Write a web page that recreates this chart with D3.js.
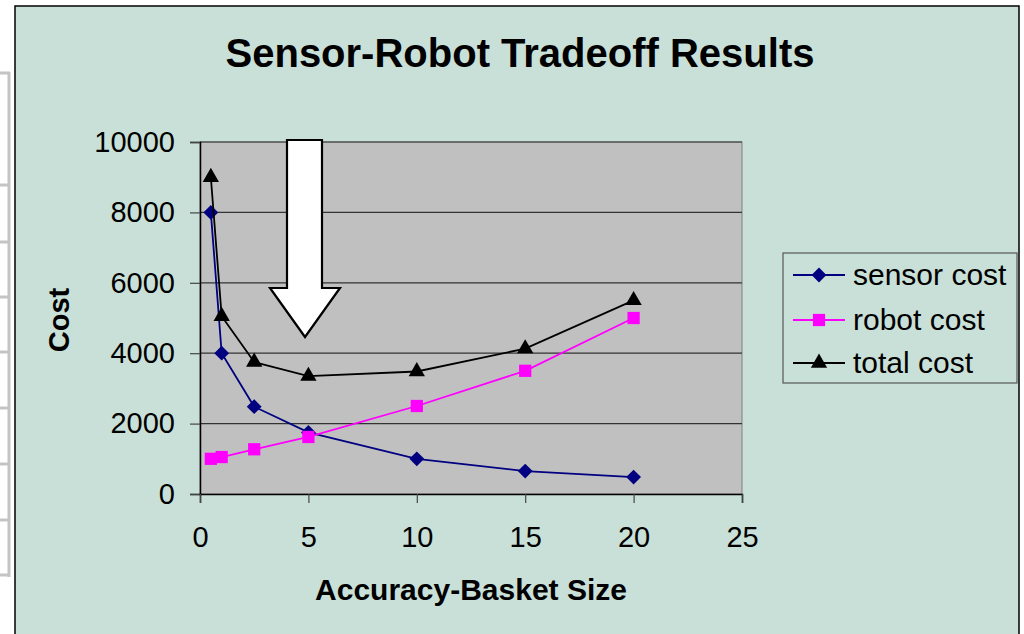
<!DOCTYPE html>
<html lang="en">
<head>
<meta charset="UTF-8">
<script src="https://cdn.jsdelivr.net/npm/d3@7/dist/d3.min.js"></script>
<title>Sensor-Robot Tradeoff Results</title>
<style>
  body { margin: 0; background: #fff; }
  text { font-family: "Liberation Sans", Arial, sans-serif; }
</style>
</head>
<body>
<svg width="1024" height="634"></svg>
<script>
  // data
  const basketSize = [0.5, 1, 2.5, 5, 10, 15, 20];
  const sensorCost = [8000, 4000, 2480, 1750, 1000, 650, 480];
  const robotCost  = [1000, 1050, 1270, 1620, 2500, 3500, 5000];
  const totalCost  = [9000, 5050, 3750, 3350, 3480, 4130, 5500];
  const seriesNames = ['sensor cost', 'robot cost', 'total cost'];
  const xTicks = [0, 5, 10, 15, 20, 25];
  const yTicks = [0, 2000, 4000, 6000, 8000, 10000];

  const svg = d3.select('svg');

  // bits of the spreadsheet table peeking out on the left
  const tableRows = [73, 185, 242, 297, 352, 408, 464, 520, 575];
  svg.append('line').attr('x1', 9).attr('x2', 9).attr('y1', 72).attr('y2', 577)
    .attr('stroke', '#c4c4c4').attr('stroke-width', 3);
  svg.selectAll('line.row').data(tableRows).join('line').attr('class', 'row')
    .attr('x1', 0).attr('x2', 10).attr('y1', d => d).attr('y2', d => d)
    .attr('stroke', '#c4c4c4').attr('stroke-width', 3);

  // chart area
  svg.append('rect').attr('x', 15).attr('y', 6).attr('width', 1004).attr('height', 640)
    .attr('fill', '#c9e0d8').attr('stroke', '#000').attr('stroke-width', 1.5);

  const pLeft = 200, pRight = 742, pTop = 142, pBottom = 494;
  const x = d3.scaleLinear().domain([0, 25]).range([pLeft, pRight]);
  const y = d3.scaleLinear().domain([0, 10000]).range([pBottom, pTop]);

  svg.append('rect').attr('x', pLeft).attr('y', pTop)
    .attr('width', pRight - pLeft).attr('height', pBottom - pTop)
    .attr('fill', '#c0c0c0').attr('stroke', '#808080').attr('stroke-width', 1);

  // gridlines
  svg.selectAll('line.grid').data(yTicks.slice(1)).join('line').attr('class', 'grid')
    .attr('x1', pLeft).attr('x2', pRight).attr('y1', d => y(d)).attr('y2', d => y(d))
    .attr('stroke', '#333').attr('stroke-width', 1.2);

  // axes
  const yAxis = svg.append('g').attr('transform', `translate(${pLeft},0)`)
    .call(d3.axisLeft(y).tickValues(yTicks).tickSize(10).tickPadding(15).tickFormat(d3.format('d')));
  const xAxis = svg.append('g').attr('transform', `translate(0,${pBottom})`)
    .call(d3.axisBottom(x).tickValues(xTicks).tickSize(9).tickPadding(23));
  [xAxis, yAxis].forEach(g => {
    g.select('.domain').attr('stroke', '#000').attr('stroke-width', 1.5);
    g.selectAll('.tick line').attr('stroke', '#444').attr('stroke-width', 1.2);
    g.selectAll('.tick text').attr('fill', '#000').style('font-size', '29px')
      .style('font-family', '"Liberation Sans", Arial, sans-serif');
  });

  // series: diamond = square turned 45 degrees
  const series = [
    { name: seriesNames[0], values: sensorCost, color: '#000080', shape: d3.symbolSquare, size: 110, rot: 45 },
    { name: seriesNames[1], values: robotCost, color: '#ff00ff', shape: d3.symbolSquare, size: 150, rot: 0 },
    { name: seriesNames[2], values: totalCost, color: '#000', shape: d3.symbolTriangle, size: 115, rot: 0 }
  ];
  const line = d3.line().x((d, i) => x(basketSize[i])).y(d => y(d));

  series.forEach(s => {
    const g = svg.append('g');
    g.append('path').attr('d', line(s.values)).attr('fill', 'none')
      .attr('stroke', s.color).attr('stroke-width', 1.8);
    g.selectAll('path.mark').data(s.values).join('path').attr('class', 'mark')
      .attr('d', d3.symbol().type(s.shape).size(s.size))
      .attr('transform', (d, i) => `translate(${x(basketSize[i])},${y(d)}) rotate(${s.rot})`)
      .attr('fill', s.color);
  });

  // arrow pointing at the minimum
  const arrow = [[287, 140], [322, 140], [322, 288], [340, 288], [305, 337],
                 [270, 288], [287, 288]];
  svg.append('polygon').attr('points', arrow.map(p => p.join(',')).join(' '))
    .attr('fill', '#fff').attr('stroke', '#000').attr('stroke-width', 2.2)
    .attr('stroke-linejoin', 'miter');

  // titles
  svg.append('text').attr('x', 520).attr('y', 67).attr('text-anchor', 'middle')
    .style('font-size', '40px').style('font-weight', 'bold').text('Sensor-Robot Tradeoff Results');
  svg.append('text').attr('x', 471).attr('y', 600).attr('text-anchor', 'middle')
    .style('font-size', '30px').style('font-weight', 'bold').text('Accuracy-Basket Size');
  svg.append('text').attr('transform', 'translate(69,320) rotate(-90)').attr('text-anchor', 'middle')
    .style('font-size', '29px').style('font-weight', 'bold').text('Cost');

  // legend
  const legend = svg.append('g');
  legend.append('rect').attr('x', 783).attr('y', 253).attr('width', 234).attr('height', 130)
    .attr('fill', 'none').attr('stroke', '#555').attr('stroke-width', 1.2);
  const rowY = [275, 320, 363];
  series.forEach((s, i) => {
    legend.append('line').attr('x1', 793).attr('x2', 845).attr('y1', rowY[i]).attr('y2', rowY[i])
      .attr('stroke', s.color).attr('stroke-width', 1.8);
    legend.append('path').attr('d', d3.symbol().type(s.shape).size(s.size)())
      .attr('transform', `translate(819,${rowY[i]}) rotate(${s.rot})`).attr('fill', s.color);
    legend.append('text').attr('x', 853).attr('y', rowY[i] + 10)
      .style('font-size', '30px').text(s.name);
  });
</script>
</body>
</html>
